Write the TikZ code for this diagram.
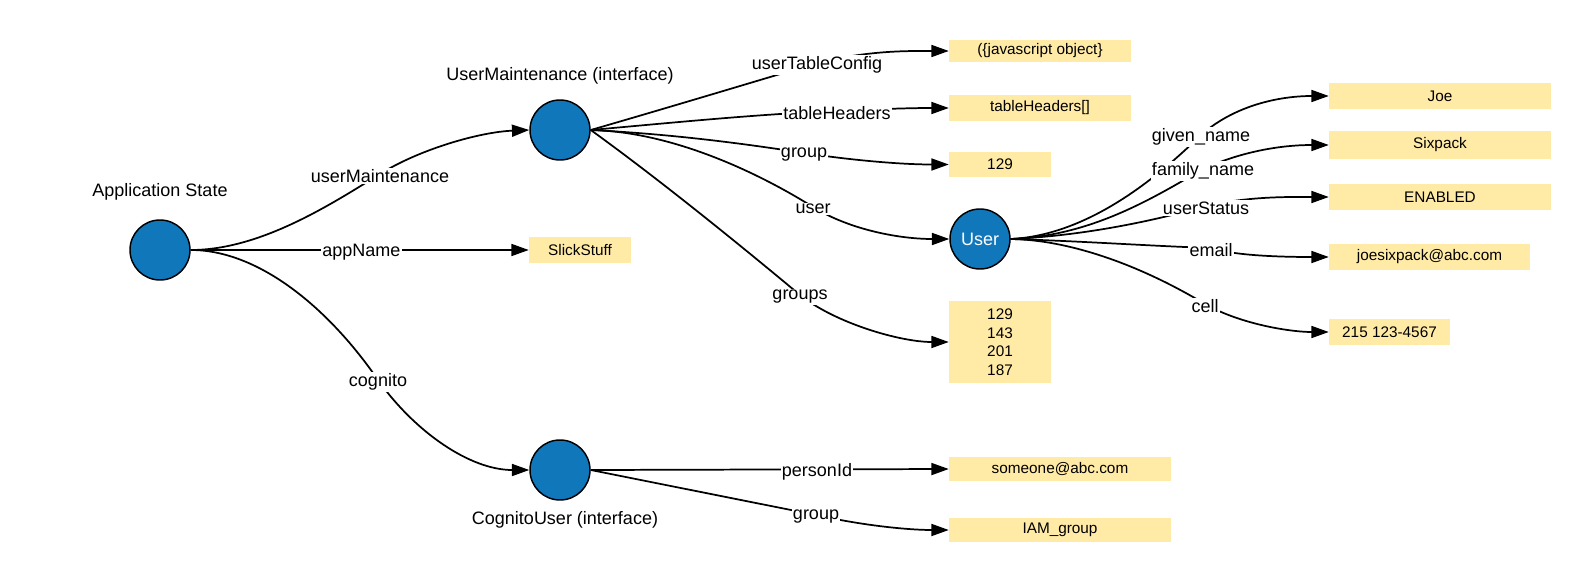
\documentclass[tikz,border=0pt]{standalone}
\usepackage{fontspec}
\setmainfont{Liberation Sans}
\usetikzlibrary{arrows.meta}
\definecolor{nodeblue}{RGB}{17,119,187}
\definecolor{boxyellow}{RGB}{255,235,166}
\begin{document}
\begin{tikzpicture}[x=0.75pt,y=-0.75pt,
  state/.style={circle,draw=black,line width=1.1pt,fill=nodeblue,minimum size=45pt,inner sep=0pt},
  valbox/.style={fill=boxyellow,inner sep=0pt,font=\fontsize{11.5}{13.9}\selectfont,align=center},
  lbl/.style={fill=white,inner sep=1pt,yshift=-1.5pt,font=\fontsize{13.5}{16}\selectfont},
  title/.style={yshift=-1.5pt,font=\fontsize{13.5}{16}\selectfont},
  edge/.style={draw=black,line width=1.3pt,-{Triangle[length=13pt,width=9pt]}}
]
\useasboundingbox (0,0) rectangle (1590,581);

% circles
\node[state] (app) at (160,250) {};
\node[state] (um) at (560,130) {};
\node[state] (cog) at (560,470) {};
\node[state,text=white,font=\fontsize{13.5}{16}\selectfont] (user) at (980,239) {User};

% titles
\node[title] (apptitle) at (160,190) {Application State};
\node[title] (umtitle) at (560,74) {UserMaintenance (interface)};
\node[title] (cogtitle) at (565,518) {CognitoUser (interface)};

% value boxes
\node[valbox,minimum width=76.5pt,minimum height=19.5pt] (slick) at (580,250) {SlickStuff};
\node[valbox,minimum width=136.5pt,minimum height=16.5pt] (js) at (1040,51) {(\{javascript object\}};
\node[valbox,minimum width=136.5pt,minimum height=19.5pt] (th) at (1040,108) {tableHeaders[]};
\node[valbox,minimum width=76.5pt,minimum height=18.75pt] (g129) at (1000,164.5) {129};
\node[valbox,minimum width=76.5pt,minimum height=61.5pt] (groups) at (1000,342) {129\\143\\201\\187};
\node[valbox,minimum width=166.5pt,minimum height=18pt] (someone) at (1060,469) {someone@abc.com};
\node[valbox,minimum width=166.5pt,minimum height=18pt] (iam) at (1060,530) {IAM\_group};
\node[valbox,minimum width=166.5pt,minimum height=19.5pt] (joe) at (1440,96) {Joe};
\node[valbox,minimum width=166.5pt,minimum height=21pt] (sixpack) at (1440,145) {Sixpack};
\node[valbox,minimum width=166.5pt,minimum height=19.5pt] (enabled) at (1440,197) {ENABLED};
\node[valbox,minimum width=150.75pt,minimum height=19.5pt] (emailbox) at (1429.5,257) {joesixpack@abc.com};
\node[valbox,minimum width=90.75pt,minimum height=19.5pt] (cellbox) at (1389.5,332) {215 123-4567};

% application state edges
\draw[edge] (app.east) -- node[lbl,pos=0.505]{appName} (slick.west);
\draw[edge] (app.east) .. controls (260,250) and (330,205) .. (380,174) node[lbl]{userMaintenance} .. controls (420,149) and (480,132) .. (um.west);
\draw[edge] (app.east) .. controls (260,250) and (330,310) .. (378,380) node[lbl]{cognito} .. controls (415,432) and (470,470) .. (cog.west);

% user maintenance edges
\draw[edge] (um.east) .. controls (660,110) and (740,86) .. (817,63) node[lbl]{userTableConfig} .. controls (870,50) and (910,51) .. (js.west);
\draw[edge] (um.east) .. controls (680,122) and (760,114) .. (837,111) node[lbl]{tableHeaders} .. controls (880,109) and (910,108) .. (th.west);
\draw[edge] (um.east) .. controls (670,134) and (740,143) .. (804,153) node[lbl]{group} .. controls (850,160) and (900,164.5) .. (g129.west);
\draw[edge] (um.east) .. controls (680,132) and (770,180) .. (813,207) node[lbl]{user} .. controls (850,230) and (900,239) .. (user.west);
\draw[edge] (um.east) .. controls (660,180) and (740,245) .. (800,295) node[lbl]{groups} .. controls (835,323) and (900,342) .. (groups.west);

% user edges
\draw[edge] (user.east) .. controls (1090,235) and (1160,175) .. (1201,135) node[lbl]{given\_name} .. controls (1235,105) and (1280,96) .. (joe.west);
\draw[edge] (user.east) .. controls (1090,236) and (1150,200) .. (1203,169) node[lbl]{family\_name} .. controls (1245,150) and (1285,145) .. (sixpack.west);
\draw[edge] (user.east) .. controls (1080,236) and (1150,222) .. (1206,206) node[lbl]{userStatus} .. controls (1250,196) and (1290,197) .. (enabled.west);
\draw[edge] (user.east) .. controls (1080,241) and (1150,246) .. (1211,248) node[lbl]{email} .. controls (1235,256) and (1285,257) .. (emailbox.west);
\draw[edge] (user.east) .. controls (1070,240) and (1140,265) .. (1205,304) node[lbl]{cell} .. controls (1240,324) and (1290,332) .. (cellbox.west);

% cognito edges
\draw[edge] (cog.east) -- node[lbl,pos=0.632]{personId} (someone.west);
\draw[edge] (cog.east) -- (816,515) node[lbl]{group} .. controls (865,526) and (910,530) .. (iam.west);
\end{tikzpicture}
\end{document}
